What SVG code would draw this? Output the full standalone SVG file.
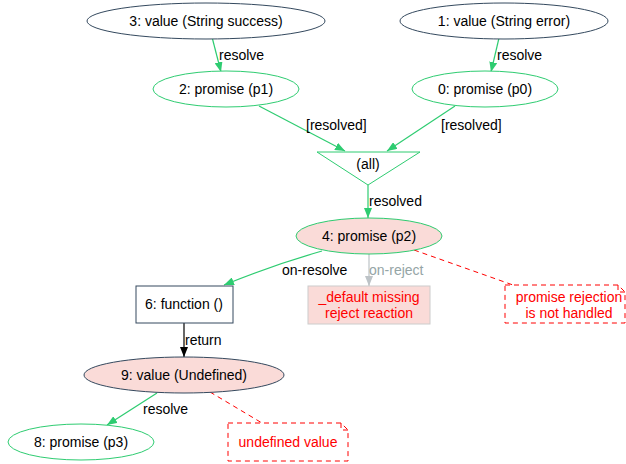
<svg xmlns="http://www.w3.org/2000/svg" width="626" height="464" viewBox="0 0 626 464">
<style>
text{font-family:"Liberation Sans",Arial,sans-serif;font-size:14px;text-anchor:middle;fill:#000}
.lbl{text-anchor:start}
.val{fill:#fff;stroke:#34495e;stroke-width:1}
.prm{fill:#fff;stroke:#2ecc71;stroke-width:1}
.bad{fill:#fadbd8}
.e{fill:none;stroke:#2ecc71;stroke-width:1.2}
.note{fill:#fff;stroke:#ff0000;stroke-width:1;stroke-dasharray:5,4}
.red{fill:#ff0000}
</style>
<defs>
<marker id="ag" markerWidth="10" markerHeight="8" refX="10" refY="4" orient="auto" markerUnits="userSpaceOnUse"><path d="M0,0 L10,4 L0,8 z" fill="#2ecc71"/></marker>
<marker id="ak" markerWidth="10" markerHeight="8" refX="10" refY="4" orient="auto" markerUnits="userSpaceOnUse"><path d="M0,0 L10,4 L0,8 z" fill="#000"/></marker>
<marker id="ay" markerWidth="10" markerHeight="8" refX="10" refY="4" orient="auto" markerUnits="userSpaceOnUse"><path d="M0,0 L10,4 L0,8 z" fill="#bdc3c7"/></marker>
</defs>
<g id="edges">
<line class="e" x1="212" y1="37" x2="221" y2="72" marker-end="url(#ag)"/>
<text class="lbl" x="219" y="60">resolve</text>
<line class="e" x1="499" y1="38" x2="491" y2="72" marker-end="url(#ag)"/>
<text class="lbl" x="497" y="60">resolve</text>
<line class="e" x1="259" y1="106" x2="345" y2="151" marker-end="url(#ag)"/>
<text class="lbl" x="306" y="130">[resolved]</text>
<line class="e" x1="455" y1="106" x2="387" y2="151" marker-end="url(#ag)"/>
<text class="lbl" x="441" y="130">[resolved]</text>
<line class="e" x1="368" y1="185" x2="368" y2="218" marker-end="url(#ag)"/>
<text class="lbl" x="369" y="206">resolved</text>
<path class="e" d="M322,251 Q270,266 224,285" marker-end="url(#ag)"/>
<text class="lbl" x="282" y="275">on-resolve</text>
<line x1="369" y1="254" x2="369" y2="286" stroke="#bdc3c7" stroke-width="1.2" marker-end="url(#ay)"/>
<text class="lbl" x="369" y="275" fill="#95a5a6" style="fill:#95a5a6">on-reject</text>
<line x1="414" y1="250" x2="513" y2="285" stroke="#ff0000" stroke-width="1" stroke-dasharray="5,4"/>
<line x1="184" y1="323" x2="184" y2="357" stroke="#000" stroke-width="1.2" marker-end="url(#ak)"/>
<text class="lbl" x="185" y="345">return</text>
<line class="e" x1="157" y1="393" x2="107" y2="425" marker-end="url(#ag)"/>
<text class="lbl" x="143" y="414">resolve</text>
<line x1="210" y1="392" x2="262" y2="423" stroke="#ff0000" stroke-width="1" stroke-dasharray="5,4"/>
</g>
<g id="n3"><ellipse class="val" cx="206" cy="21" rx="119" ry="18"/><text x="206" y="26">3: value (String success)</text></g>
<g id="n1"><ellipse class="val" cx="504" cy="21" rx="104" ry="18"/><text x="504" y="26">1: value (String error)</text></g>
<g id="n2"><ellipse class="prm" cx="226" cy="89" rx="73" ry="18"/><text x="226" y="94">2: promise (p1)</text></g>
<g id="n0"><ellipse class="prm" cx="485" cy="89" rx="73" ry="18"/><text x="485" y="94">0: promise (p0)</text></g>
<g id="all"><polygon class="prm" points="317,152 420,152 368,185"/><text x="368" y="169">(all)</text></g>
<g id="n4"><ellipse class="prm bad" cx="369" cy="236" rx="73" ry="18"/><text x="369" y="241">4: promise (p2)</text></g>
<g id="n6"><rect class="val" x="136" y="286" width="97" height="37"/><text x="184" y="309">6: function ()</text></g>
<g id="default"><rect x="308" y="286" width="122" height="38" fill="#fadbd8" stroke="#cccccc" stroke-width="1"/><text class="red" x="369" y="302">_default missing</text><text class="red" x="369" y="318">reject reaction</text></g>
<g id="note1"><path class="note" d="M505,285 L618,285 L625,292 L625,323 L505,323 Z M618,285 L618,292 L625,292"/><text class="red" x="569" y="302">promise rejection</text><text class="red" x="569" y="318">is not handled</text></g>
<g id="n9"><ellipse class="val bad" cx="184" cy="375" rx="100" ry="18"/><text x="184" y="380">9: value (Undefined)</text></g>
<g id="n8"><ellipse class="prm" cx="81" cy="442" rx="73" ry="18"/><text x="81" y="447">8: promise (p3)</text></g>
<g id="note2"><path class="note" d="M228,423 L341,423 L348,430 L348,461 L228,461 Z M341,423 L341,430 L348,430"/><text class="red" x="288" y="447">undefined value</text></g>
</svg>
